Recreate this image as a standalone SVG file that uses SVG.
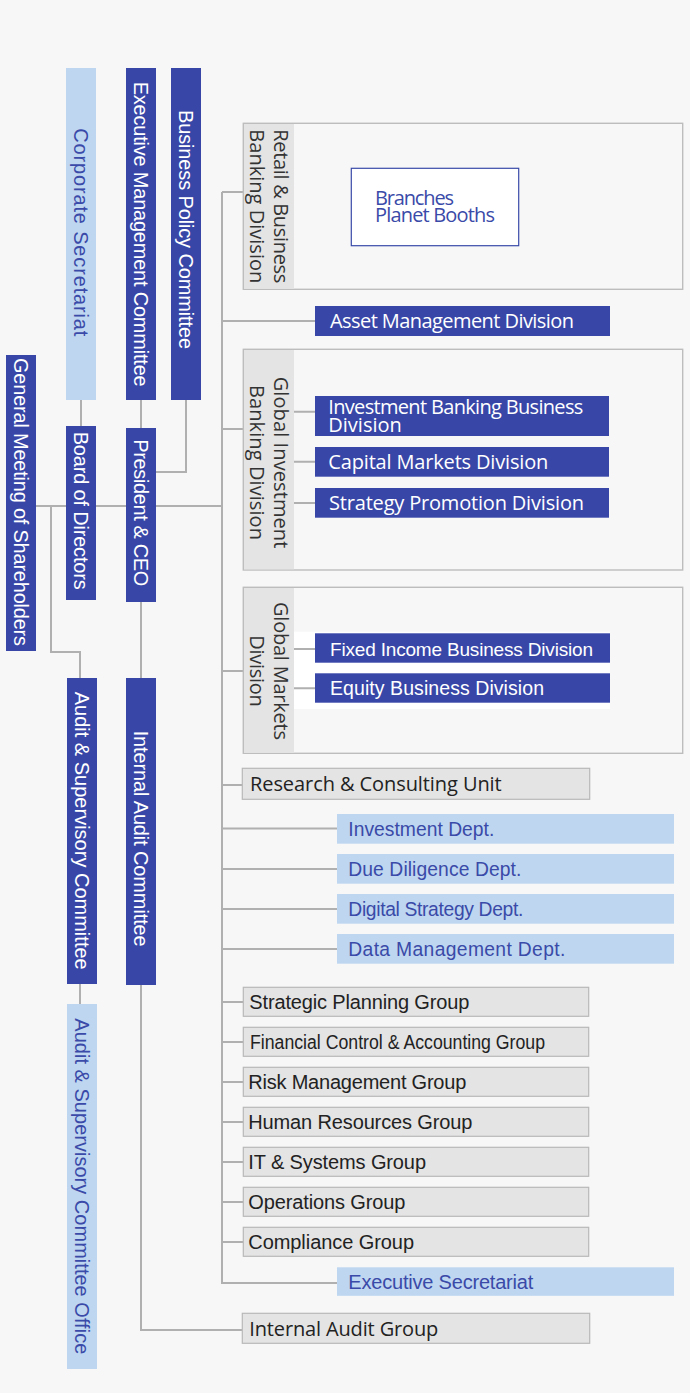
<svg xmlns="http://www.w3.org/2000/svg" width="690" height="1393" viewBox="0 0 690 1393">
<style>
.bg{fill:#f7f7f7}
.dk{fill:#3847a7}
.lt{fill:#bed6f0}
.gr{fill:#e4e4e4;stroke:#b8b8b8;stroke-width:1.2}
.frame{fill:#f7f7f7;stroke:#bdbdbd;stroke-width:1.4}
.strip{fill:#e4e4e4}
.cn{fill:none;stroke:#b0b0b0;stroke-width:2}
.a{font-family:"Liberation Sans",Arial,sans-serif;font-size:20px}
.o{font-family:"Open Sans","Noto Sans",sans-serif;font-size:20px}
.w{fill:#ffffff}
.b{fill:#3a4aa8}
.k{fill:#222222}
.s{font-family:"Open Sans","Noto Sans",sans-serif;font-size:20px;fill:#333333;text-anchor:middle}
</style>
<rect class="bg" x="0" y="0" width="690" height="1393"/>

<g id="connectors">
<path class="cn" d="M222,192 V1283 H337"/>
<path class="cn" d="M222,192 H243"/>
<path class="cn" d="M222,321 H315"/>
<path class="cn" d="M222,429 H243"/>
<path class="cn" d="M36,506 H222"/>
<path class="cn" d="M222,671 H243"/>
<path class="cn" d="M222,785 H243"/>
<path class="cn" d="M222,828.5 H337"/>
<path class="cn" d="M222,869 H337"/>
<path class="cn" d="M222,909 H337"/>
<path class="cn" d="M222,949 H337"/>
<path class="cn" d="M222,1002 H243"/>
<path class="cn" d="M222,1042 H243"/>
<path class="cn" d="M222,1082 H243"/>
<path class="cn" d="M222,1122 H243"/>
<path class="cn" d="M222,1162 H243"/>
<path class="cn" d="M222,1202 H243"/>
<path class="cn" d="M222,1242 H243"/>
<path class="cn" d="M81,400 V426"/>
<path class="cn" d="M141,400 V428"/>
<path class="cn" d="M186,400 V472 H156"/>
<path class="cn" d="M51,506 V652 H80 V678"/>
<path class="cn" d="M80,984 V1004"/>
<path class="cn" d="M141,602 V678"/>
<path class="cn" d="M141,985 V1330 H242"/>
</g>

<g id="general-meeting">
<rect class="dk" x="6" y="355" width="30" height="296"/>
<text class="a w" transform="translate(14,358) rotate(90)" textLength="288" lengthAdjust="spacing">General Meeting of Shareholders</text>
</g>
<g id="corporate-secretariat">
<rect class="lt" x="66" y="68" width="30" height="332"/>
<text class="a b" transform="translate(74,128.3) rotate(90)" textLength="208" lengthAdjust="spacing">Corporate Secretariat</text>
</g>
<g id="executive-management-committee">
<rect class="dk" x="126" y="68" width="30" height="332"/>
<text class="a w" transform="translate(134,81.7) rotate(90)" textLength="305" lengthAdjust="spacing">Executive Management Committee</text>
</g>
<g id="business-policy-committee">
<rect class="dk" x="171" y="68" width="30" height="332"/>
<text class="a w" transform="translate(179,110) rotate(90)" textLength="239" lengthAdjust="spacing">Business Policy Committee</text>
</g>
<g id="board-of-directors">
<rect class="dk" x="66" y="426" width="30" height="174"/>
<text class="a w" transform="translate(74,431.7) rotate(90)" textLength="158" lengthAdjust="spacing">Board of Directors</text>
</g>
<g id="president-ceo">
<rect class="dk" x="126" y="428" width="30" height="174"/>
<text class="a w" transform="translate(134,439.3) rotate(90)" textLength="147" lengthAdjust="spacing">President &amp; CEO</text>
</g>
<g id="audit-supervisory-committee">
<rect class="dk" x="67" y="678" width="30" height="306"/>
<text class="a w" transform="translate(75,691.7) rotate(90)" textLength="278" lengthAdjust="spacing">Audit &amp; Supervisory Committee</text>
</g>
<g id="internal-audit-committee">
<rect class="dk" x="126" y="678" width="30" height="307"/>
<text class="a w" transform="translate(134,730.7) rotate(90)" textLength="216" lengthAdjust="spacing">Internal Audit Committee</text>
</g>
<g id="audit-supervisory-committee-office">
<rect class="lt" x="67" y="1004" width="30" height="365"/>
<text class="a b" transform="translate(75,1018.3) rotate(90)" textLength="336" lengthAdjust="spacing">Audit &amp; Supervisory Committee Office</text>
</g>

<g id="retail-business-banking-division">
<rect class="frame" x="243.3" y="123.3" width="439.4" height="166"/>
<rect class="strip" x="244" y="124" width="50" height="164.6"/>
<text class="s" transform="translate(274,206.3) rotate(90)"><tspan x="0" y="0" textLength="154" lengthAdjust="spacing">Retail &amp; Business</tspan><tspan x="0" y="24" textLength="154" lengthAdjust="spacing">Banking Division</tspan></text>
</g>
<g id="branches">
<rect x="351.3" y="168.3" width="167.4" height="77.4" fill="#ffffff" stroke="#3a4aa8" stroke-width="1.2"/>
<text class="o b" x="375" y="204.5"><tspan textLength="79" lengthAdjust="spacing">Branches</tspan><tspan x="375" y="222" textLength="120" lengthAdjust="spacing">Planet Booths</tspan></text>
</g>
<g id="asset-management-division">
<rect class="dk" x="315" y="306" width="295" height="30"/>
<text class="o w" x="330" y="328" textLength="244" lengthAdjust="spacing">Asset Management Division</text>
</g>

<g id="global-investment-banking-division">
<rect class="frame" x="243.3" y="349.3" width="439.4" height="220.7"/>
<rect class="strip" x="244" y="350" width="50" height="219.3"/>
<text class="s" transform="translate(274,462.5) rotate(90)"><tspan x="0" y="0" textLength="171.7" lengthAdjust="spacing">Global Investment</tspan><tspan x="0" y="24" textLength="155" lengthAdjust="spacing">Banking Division</tspan></text>
<path class="cn" d="M294,411.7 H315 M294,461.7 H315 M294,503 H315"/>
</g>
<g id="investment-banking-business-division">
<rect class="dk" x="315" y="396" width="294" height="40"/>
<text class="o w" x="328.3" y="413.5"><tspan textLength="255" lengthAdjust="spacing">Investment Banking Business</tspan><tspan x="328.3" y="432">Division</tspan></text>
</g>
<g id="capital-markets-division">
<rect class="dk" x="315" y="447" width="294" height="29.7"/>
<text class="o w" x="328.3" y="469" textLength="220" lengthAdjust="spacing">Capital Markets Division</text>
</g>
<g id="strategy-promotion-division">
<rect class="dk" x="315" y="488" width="294" height="29.7"/>
<text class="o w" x="329" y="510" textLength="255" lengthAdjust="spacing">Strategy Promotion Division</text>
</g>

<g id="global-markets-division">
<rect class="frame" x="243.3" y="587.3" width="439.4" height="166"/>
<rect class="strip" x="244" y="588" width="50" height="164.6"/>
<rect x="294" y="631.7" width="316" height="77.3" fill="#ffffff"/>
<text class="s" transform="translate(274,671) rotate(90)"><tspan x="0" y="0" textLength="138" lengthAdjust="spacing">Global Markets</tspan><tspan x="0" y="24" textLength="71.7" lengthAdjust="spacing">Division</tspan></text>
<path class="cn" d="M294,649 H315 M294,688.3 H315"/>
</g>
<g id="fixed-income-business-division">
<rect class="dk" x="315" y="633.3" width="295" height="29.4"/>
<text class="a w" style="font-size:19px" x="330" y="655.5" textLength="263" lengthAdjust="spacing">Fixed Income Business Division</text>
</g>
<g id="equity-business-division">
<rect class="dk" x="315" y="673.3" width="295" height="29.4"/>
<text class="a w" style="font-size:19.5px" x="330" y="695" textLength="214" lengthAdjust="spacing">Equity Business Division</text>
</g>

<g id="research-consulting-unit">
<rect class="gr" x="242.3" y="768.3" width="347.4" height="31"/>
<text class="o k" x="250" y="791" textLength="251.7" lengthAdjust="spacing">Research &amp; Consulting Unit</text>
</g>

<g id="investment-dept">
<rect class="lt" x="337" y="814" width="337" height="29.7"/>
<text class="a b" style="font-size:19.3px" x="348.3" y="836" textLength="146" lengthAdjust="spacing">Investment Dept.</text>
</g>
<g id="due-diligence-dept">
<rect class="lt" x="337" y="854" width="337" height="29.7"/>
<text class="a b" style="font-size:19.3px" x="348.3" y="876" textLength="173" lengthAdjust="spacing">Due Diligence Dept.</text>
</g>
<g id="digital-strategy-dept">
<rect class="lt" x="337" y="894" width="337" height="29.7"/>
<text class="a b" style="font-size:19.3px" x="348.3" y="916" textLength="175" lengthAdjust="spacing">Digital Strategy Dept.</text>
</g>
<g id="data-management-dept">
<rect class="lt" x="337" y="934" width="337" height="29.7"/>
<text class="a b" style="font-size:19.3px" x="348.3" y="956" textLength="217" lengthAdjust="spacing">Data Management Dept.</text>
</g>

<g id="strategic-planning-group">
<rect class="gr" x="243.3" y="987.3" width="345.4" height="29"/>
<text class="a k" x="249.3" y="1009" textLength="220" lengthAdjust="spacing">Strategic Planning Group</text>
</g>
<g id="financial-control-accounting-group">
<rect class="gr" x="243.3" y="1027.3" width="345.4" height="29"/>
<text class="a k" x="250" y="1049" textLength="295" lengthAdjust="spacingAndGlyphs">Financial Control &amp; Accounting Group</text>
</g>
<g id="risk-management-group">
<rect class="gr" x="243.3" y="1067.3" width="345.4" height="29"/>
<text class="a k" x="248.3" y="1089" textLength="218" lengthAdjust="spacing">Risk Management Group</text>
</g>
<g id="human-resources-group">
<rect class="gr" x="243.3" y="1107.3" width="345.4" height="29"/>
<text class="a k" x="248.3" y="1129" textLength="224" lengthAdjust="spacing">Human Resources Group</text>
</g>
<g id="it-systems-group">
<rect class="gr" x="243.3" y="1147.3" width="345.4" height="29"/>
<text class="a k" x="248.3" y="1169" textLength="177.7" lengthAdjust="spacing">IT &amp; Systems Group</text>
</g>
<g id="operations-group">
<rect class="gr" x="243.3" y="1187.3" width="345.4" height="29"/>
<text class="a k" x="248.3" y="1209" textLength="157" lengthAdjust="spacing">Operations Group</text>
</g>
<g id="compliance-group">
<rect class="gr" x="243.3" y="1227.3" width="345.4" height="29"/>
<text class="a k" x="248.3" y="1249" textLength="165.7" lengthAdjust="spacing">Compliance Group</text>
</g>
<g id="executive-secretariat">
<rect class="lt" x="337" y="1267.3" width="337" height="28.5"/>
<text class="a b" x="348.3" y="1289" textLength="185" lengthAdjust="spacing">Executive Secretariat</text>
</g>
<g id="internal-audit-group">
<rect class="gr" x="242.3" y="1313.3" width="347.4" height="30"/>
<text class="o k" x="249.3" y="1336" textLength="189" lengthAdjust="spacing">Internal Audit Group</text>
</g>
</svg>
